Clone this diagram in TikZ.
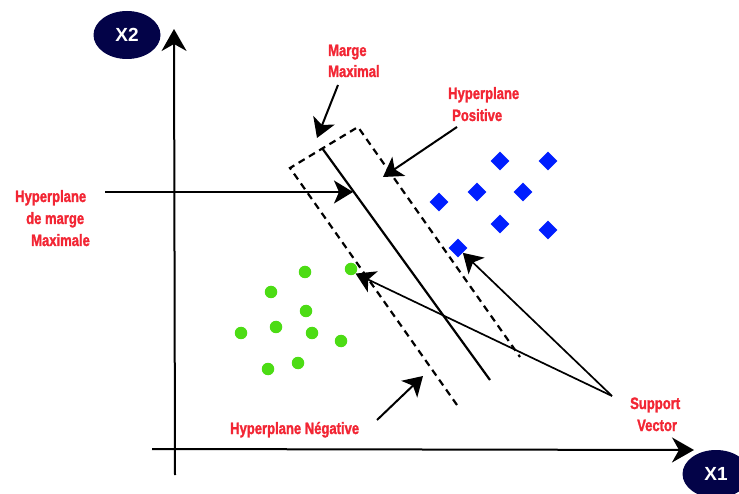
\documentclass[tikz,border=0pt]{standalone}
\usepackage{fontspec}
\setmainfont{Liberation Sans}
\newfontfamily\lblfont[FakeStretch=0.79, BoldFeatures={FakeBold=1.5}]{Liberation Sans}
\usetikzlibrary{arrows.meta,shapes.geometric}
\definecolor{lblred}{RGB}{242,38,52}
\definecolor{navy}{RGB}{3,3,72}
\definecolor{ptgreen}{RGB}{76,220,20}
\definecolor{ptblue}{RGB}{0,30,255}
\tikzset{
  lbl/.style={text=lblred, font=\lblfont\bfseries\fontsize{16.5}{22}\selectfont, inner sep=0pt, anchor=base west},
  axisname/.style={ellipse, fill=navy, text=white, minimum width=67pt, minimum height=48pt, inner sep=0pt, font=\bfseries\fontsize{19}{22}\selectfont},
  axisline/.style={line width=2pt, -{Stealth[length=22pt,width=25pt,inset=7pt]}},
  pointer/.style={line width=2pt, -{Stealth[length=19pt,width=23pt,inset=5pt]}},
  thinpointer/.style={line width=1.7pt, -{Stealth[length=19pt,width=23pt,inset=5pt]}},
  margin/.style={line width=2.2pt, dash pattern=on 7pt off 5pt},
  hyper/.style={line width=2.2pt},
  negdot/.style={circle, fill=ptgreen, minimum size=12.5pt, inner sep=0pt},
  posdot/.style={diamond, fill=ptblue, minimum width=19pt, minimum height=19pt, inner sep=0pt},
}
\begin{document}
\begin{tikzpicture}[x=1pt,y=-1pt]
\useasboundingbox (0,0) rectangle (739,494);
\clip (0,0) rectangle (739,494);

% axes
\coordinate (ybot) at (175,475);
\coordinate (ytop) at (174,29);
\coordinate (xleft) at (152,449);
\coordinate (xright) at (694,450);
\draw[axisline] (ybot) -- (ytop);
\draw[axisline] (xleft) -- (xright);
\node[axisname] (x2) at (127,35) {X2};
\node[axisname] (x1) at (716,474) {X1};

% margin (dashed) and hyperplane
\coordinate (mbl) at (457,405);
\coordinate (mtl) at (290,168);
\coordinate (mtr) at (358,127);
\coordinate (mbr) at (520,357);
\draw[margin] (mbl) -- (mtl) -- (mtr) -- (mbr);
\coordinate (htop) at (322,148);
\coordinate (hbot) at (490,380);
\draw[hyper] (htop) -- (hbot);

% negative points
\foreach \n/\x/\y in {g1/305/272, g2/351/269, g3/271/292, g4/306/311, g5/276/327,
                      g6/241/333, g7/312/333, g8/341/341, g9/268/369, g10/298/363}
  \node[negdot] (\n) at (\x,\y) {};
% positive points
\foreach \n/\x/\y in {d1/500/161, d2/548/161, d3/477/192, d4/523/192, d5/439/202,
                      d6/500/224, d7/548/230, d8/458/248}
  \node[posdot] (\n) at (\x,\y) {};

% labels
\node[lbl] (mm1) at (328,56) {Marge};
\node[lbl] (mm2) at (328,77) {Maximal};
\node[lbl] (hp1) at (448,99) {Hyperplane};
\node[lbl] (hp2) at (452,121) {Positive};
\node[lbl] (hm1) at (15,202) {Hyperplane};
\node[lbl] (hm2) at (26,224) {de marge};
\node[lbl] (hm3) at (31,246) {Maximale};
\node[lbl] (hn) at (230,434) {Hyperplane Négative};
\node[lbl] (sv1) at (630,409) {Support};
\node[lbl] (sv2) at (637,431) {Vector};

% pointers
\coordinate (mmS) at (338,85);
\coordinate (mmE) at (317,138);
\draw[pointer] (mmS) -- (mmE);
\coordinate (hpS) at (457,127);
\coordinate (hpE) at (383,177);
\draw[pointer] (hpS) -- (hpE);
\coordinate (hmS) at (105,192);
\coordinate (hmE) at (353,192);
\draw[thinpointer] (hmS) -- (hmE);
\coordinate (hnS) at (377,420);
\coordinate (hnE) at (423,376);
\draw[pointer] (hnS) -- (hnE);
\coordinate (svS) at (612,396);
\draw[thinpointer] (svS) -- (g2.south east);
\draw[thinpointer] (svS) -- (d8.south east);
\end{tikzpicture}
\end{document}
